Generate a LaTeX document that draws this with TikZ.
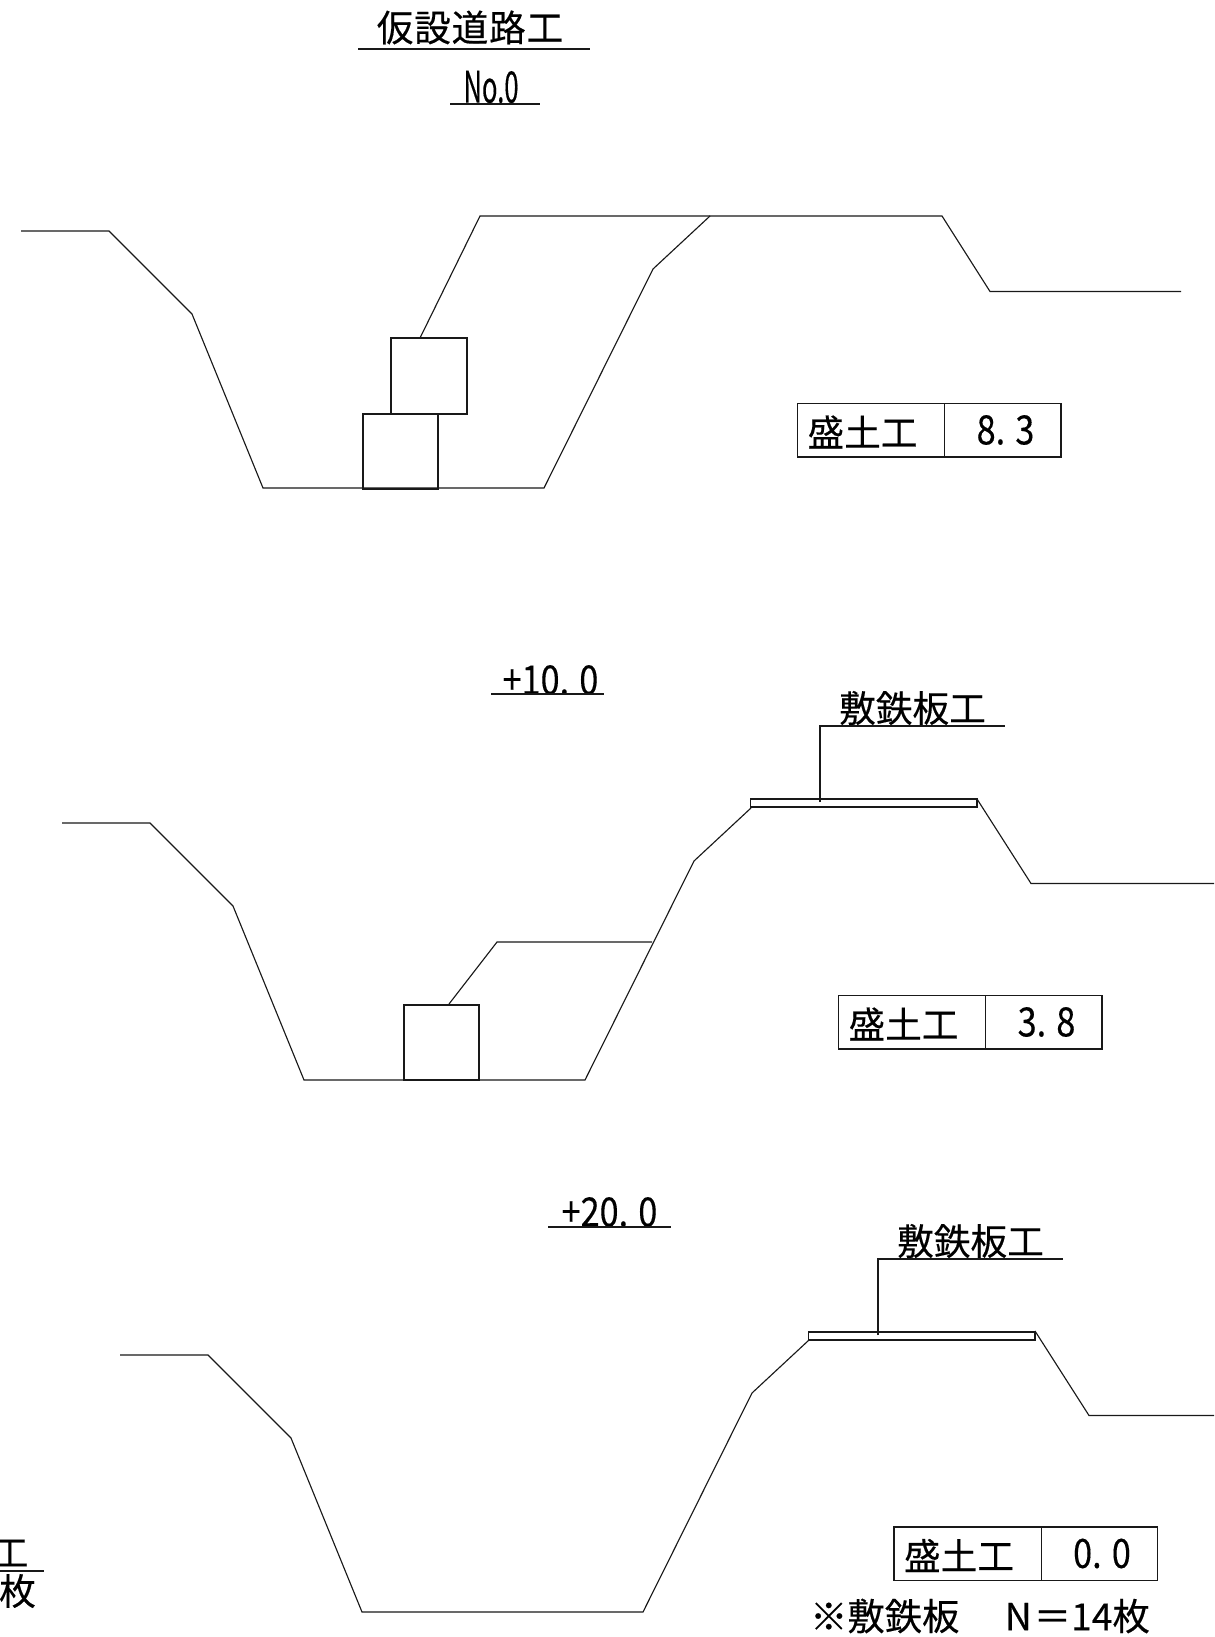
\documentclass[tikz,border=0pt]{standalone}
\usepackage{fontspec}
\setmainfont{Noto Sans CJK JP}[RawFeature={embolden=0.35}]
\newcommand{\fs}[1]{\fontsize{#1}{#1}\selectfont}
\newcommand{\tallnum}[1]{\scalebox{0.95}[1.12]{#1}}
\tikzset{
  line/.style={line width=0.85pt,black!90,line join=miter},
  lbl/.style={inner sep=0pt,outer sep=0pt,anchor=center,text=black,font=\fs{27.5}},
  num/.style={lbl,font=\fs{27}},
}
% left part of the road profile, up to the crown's left end
\newcommand{\leftprofile}{(21,231) -- (109,231) -- (192,314) -- (263,488) -- (544,488) -- (653,269) -- (710,216)}
\newcommand{\rightprofile}{(990,291.5) -- (1181,291.5)}
\newcommand{\infotable}[2]{%
  \draw[line] (797.5,403.5) rectangle (1061,457);
  \draw[line] (944.7,403.5) -- (944.7,457);
  \node[lbl] (#1a) at (862.5,432) {盛土工};
  \node[num] (#1b) at (1005.5,430) {\tallnum{#2}};
}
\newcommand{\plate}[1]{%
  \draw[line,fill=white] (750.7,799) rectangle (977,807);
  \draw[line] (820,802) -- (820,726) -- (1005,726);
  \node[lbl] (#1) at (912.5,708) {敷鉄板工};
}
\begin{document}
\begin{tikzpicture}[x=0.75pt,y=-0.75pt]
\useasboundingbox (0,0) rectangle (1214,1637);
\clip (0,0) rectangle (1214,1637);
% title
\node[lbl,font=\fs{27.5}] (title) at (470,27.5) {仮\kern0.6pt 設\kern0.6pt 道\kern0.6pt 路\kern0.6pt 工};
\draw[line] (358,49) -- (590,49);
\node[lbl] (no) at (491,87) {\scalebox{0.6}[1.02]{\fs{32}No.0}};
\draw[line] (450,104) -- (540,104);
% section 1
\draw[line] \leftprofile -- (942,216) -- \rightprofile;
\draw[line] (391,338) rectangle (467,414);
\draw[line] (363,414) rectangle (438,489);
\draw[line] (420,338) -- (480,216) -- (710,216);
\infotable{a}{8. 3}
% section 2
\node[num] (p10) at (550.5,680) {\tallnum{+10. 0}};
\draw[line] (491,694) -- (604,694);
\begin{scope}[shift={(41,592)}]
  \draw[line] \leftprofile;
  \draw[line] (936,207) -- \rightprofile;
  \draw[line] (363,413) rectangle (438,488);
\end{scope}
\draw[line] (449,1004) -- (497,942) -- (652,942);
\begin{scope}[shift={(41,592)}]
  \infotable{b}{3. 8}
\end{scope}
\plate{pa}
% section 3
\node[num] (p20) at (609.5,1212) {\tallnum{+20. 0}};
\draw[line] (548,1227) -- (671,1227);
\begin{scope}[shift={(99,1124)}]
  \draw[line] \leftprofile;
  \draw[line] (936,207) -- \rightprofile;
\end{scope}
\begin{scope}[shift={(58,533)}]
  \plate{pb}
\end{scope}
\begin{scope}[shift={(96.5,1123.5)}]
  \infotable{c}{0. 0}
\end{scope}
% bottom note
\node[lbl,font=\fs{28}] (note) at (980,1616) {※敷鉄板\kern34pt N\kern1.5pt ＝14枚};
% left fragment
\node[lbl] (fa) at (10,1553) {工};
\draw[line] (0,1571) -- (44,1571);
\node[lbl] (fb) at (17.5,1591) {枚};
\end{tikzpicture}
\end{document}
